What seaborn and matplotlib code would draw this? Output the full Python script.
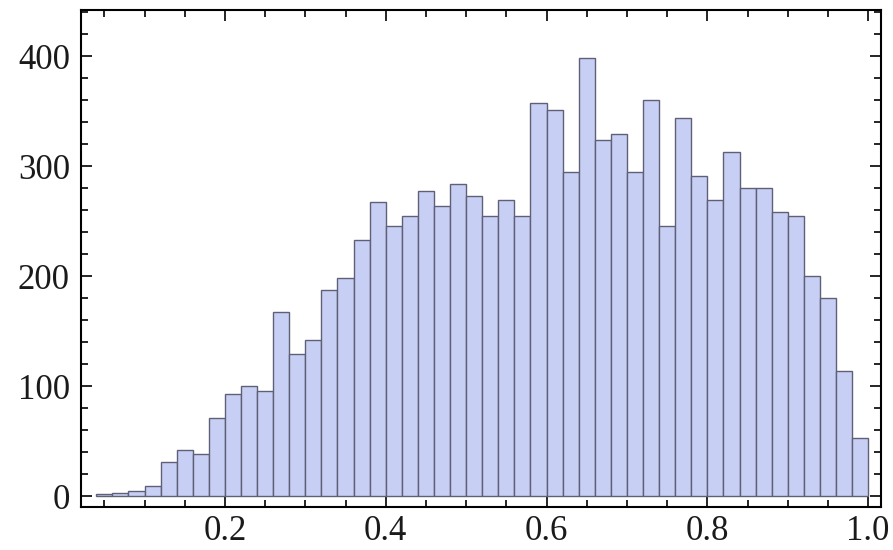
import numpy as np
import pandas as pd
import matplotlib
matplotlib.use("Agg")
import matplotlib.pyplot as plt
from matplotlib.ticker import MultipleLocator
import seaborn as sns

# Histogram counts per bin (bins of width 0.02 from 0.04 to 1.00)
bin_left = [0.04, 0.06, 0.08, 0.10, 0.12, 0.14, 0.16, 0.18, 0.20, 0.22,
            0.24, 0.26, 0.28, 0.30, 0.32, 0.34, 0.36, 0.38, 0.40, 0.42,
            0.44, 0.46, 0.48, 0.50, 0.52, 0.54, 0.56, 0.58, 0.60, 0.62,
            0.64, 0.66, 0.68, 0.70, 0.72, 0.74, 0.76, 0.78, 0.80, 0.82,
            0.84, 0.86, 0.88, 0.90, 0.92, 0.94, 0.96, 0.98]
counts = [2, 3, 5, 9, 31, 42, 38, 71, 93, 100,
          96, 167, 129, 142, 187, 198, 233, 267, 246, 255,
          277, 264, 284, 273, 255, 269, 255, 357, 351, 295,
          398, 324, 329, 295, 360, 246, 344, 291, 269, 313,
          280, 280, 258, 255, 200, 180, 114, 53]
bin_width = 0.02
x_ticks = [0.2, 0.4, 0.6, 0.8, 1.0]
x_tick_labels = ["0.2", "0.4", "0.6", "0.8", "1.0"]
y_ticks = [0, 100, 200, 300, 400]
y_tick_labels = ["0", "100", "200", "300", "400"]

df = pd.DataFrame({"center": np.array(bin_left) + bin_width / 2,
                   "count": counts})

sns.set_theme(style="white")
plt.rcParams["font.family"] = ["Liberation Serif", "DejaVu Serif"]

fig = plt.figure(figsize=(8.93, 5.5), dpi=100)
ax = fig.add_axes([0.0907, 0.0782, 0.8959, 0.9036])

sns.histplot(data=df, x="center", weights="count", binwidth=bin_width,
             binrange=(bin_left[0], bin_left[-1] + bin_width), ax=ax,
             color="#c8cff4", alpha=1.0, edgecolor="#5e6078", linewidth=1.0)

ax.set_xlim(0.021, 1.016)
ax.set_ylim(-9.7, 441.8)
ax.set_xlabel("")
ax.set_ylabel("")

ax.set_xticks(x_ticks)
ax.set_xticklabels(x_tick_labels)
ax.set_yticks(y_ticks)
ax.set_yticklabels(y_tick_labels)
ax.xaxis.set_minor_locator(MultipleLocator(0.05))
ax.yaxis.set_minor_locator(MultipleLocator(20))

ax.tick_params(which="both", direction="in", top=True, right=True,
               bottom=True, left=True, color="black", width=1.2)
ax.tick_params(which="major", length=8, labelsize=25,
               labelcolor="#1a1a1a")
ax.tick_params(which="minor", length=5)
ax.tick_params(axis="y", which="major", pad=8)
ax.tick_params(axis="x", which="major", pad=6)

for side in ax.spines.values():
    side.set_visible(True)
    side.set_color("black")
    side.set_linewidth(1.5)

fig.savefig("out.png", dpi=100)
